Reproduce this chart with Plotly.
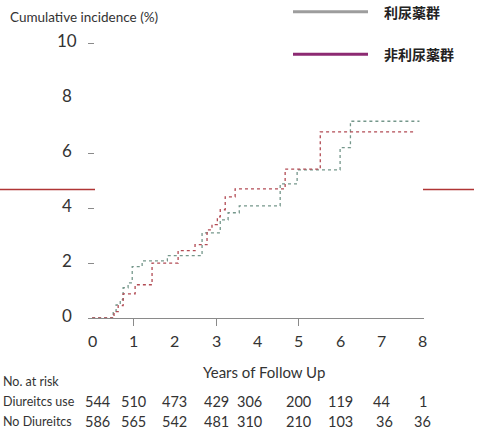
import plotly.graph_objects as go

# Cumulative incidence step curves (years, %)
diuretic_t = [0, 0.51, 0.58, 0.68, 0.75, 0.87, 0.97, 1.21, 1.82, 2.66, 3.10, 3.29, 3.56, 4.55, 4.96, 6.00, 6.25, 7.92]
diuretic_y = [0, 0.25, 0.48, 0.67, 1.10, 1.28, 1.87, 2.08, 2.27, 3.10, 3.57, 3.83, 4.08, 4.88, 5.39, 6.20, 7.16, 7.16]

non_diuretic_t = [0, 0.53, 0.63, 0.75, 1.04, 1.45, 2.08, 2.49, 2.78, 2.90, 3.03, 3.10, 3.22, 3.46, 4.67, 5.52, 7.77]
non_diuretic_y = [0, 0.23, 0.45, 0.88, 1.21, 2.00, 2.45, 2.67, 3.21, 3.40, 3.68, 3.94, 4.41, 4.70, 5.42, 6.77, 6.77]

ref_level = 4.68

x_ticks = [0, 1, 2, 3, 4, 5, 6, 7, 8]
y_ticks = [0, 2, 4, 6, 8, 10]

risk_times = [0, 1, 2, 3, 4, 5, 6, 7, 8]
risk_diuretic = [544, 510, 473, 429, 306, 200, 119, 44, 1]
risk_non_diuretic = [586, 565, 542, 481, 310, 210, 103, 36, 36]
risk_rows = ["Diureitcs use", "No Diureitcs"]

legend_names = ["利尿薬群", "非利尿薬群"]

FONT = "Lato"
TXT = "#333333"

# pixel helpers for the fixed 494x439 canvas (plot area 88..424 x 30..318)
L, W, T0, H = 88, 336, 30, 288
def px(x):
    return (x - L) / W
def py(y):
    return (T0 + H - y) / H

fig = go.Figure()

fig.add_trace(go.Scatter(
    x=diuretic_t, y=diuretic_y, mode="lines", line_shape="hv",
    line=dict(color="#75978b", width=1.3, dash="dot"), showlegend=False, hoverinfo="skip"))
fig.add_trace(go.Scatter(
    x=non_diuretic_t, y=non_diuretic_y, mode="lines", line_shape="hv",
    line=dict(color="#b24b54", width=1.3, dash="dot"), showlegend=False, hoverinfo="skip"))

fig.update_layout(
    width=494, height=439,
    margin=dict(l=L, r=494 - L - W, t=T0, b=439 - T0 - H),
    paper_bgcolor="white", plot_bgcolor="white",
    showlegend=False,
    font=dict(family=FONT, color=TXT),
    xaxis=dict(range=[-0.1, 8.03], showgrid=False, zeroline=False,
               showline=True, linecolor="#8a8a8a", linewidth=1,
               tickvals=[1, 3, 5], ticks="outside", ticklen=7, tickcolor="#8a8a8a",
               showticklabels=False),
    yaxis=dict(range=[0, 10.48], showgrid=False, zeroline=False, showline=False,
               tickvals=[2, 4, 6, 10], ticks="inside", ticklen=6, tickcolor="#8a8a8a",
               showticklabels=False),
)

ann = []
# y tick labels (centred under one another)
for v in y_ticks:
    ann.append(dict(x=px(67), xref="paper", y=v, yref="y", yshift=3, text=str(v),
                    showarrow=False, xanchor="center", yanchor="middle",
                    font=dict(size=17, color=TXT)))
# x tick labels
for v in x_ticks:
    ann.append(dict(x=v, xref="x", y=py(340.7), yref="paper", text=str(v),
                    showarrow=False, xanchor="center", yanchor="middle",
                    font=dict(size=16, color=TXT)))

ann.append(dict(x=px(8), xref="paper", y=py(16.7), yref="paper",
                text="Cumulative incidence (%)", showarrow=False,
                xanchor="left", yanchor="middle", font=dict(size=13.5, color=TXT)))

ann.append(dict(x=px(264), xref="paper", y=py(371.7), yref="paper",
                text="Years of Follow Up", showarrow=False, xanchor="center", yanchor="middle",
                font=dict(size=15, color=TXT)))

# number at risk table
ann.append(dict(x=px(1), xref="paper", y=py(381.7), yref="paper",
                text="No. at risk", showarrow=False, xanchor="left", yanchor="middle",
                font=dict(size=12.5, color=TXT)))
row_y = [py(401.7), py(421.7)]
col_shift = [5, 0, 0, 0, -8, 0, 0, 0, 0]
for r, (name, counts) in enumerate(zip(risk_rows, [risk_diuretic, risk_non_diuretic])):
    ann.append(dict(x=px(1), xref="paper", y=row_y[r], yref="paper", text=name,
                    showarrow=False, xanchor="left", yanchor="middle",
                    font=dict(size=12.5, color=TXT)))
    for i, (t, n) in enumerate(zip(risk_times, counts)):
        shift = col_shift[i] + (3 if (r == 1 and i == 7) else 0)
        ann.append(dict(x=t, xref="x", y=row_y[r], yref="paper", xshift=shift, text=str(n),
                        showarrow=False, xanchor="center", yanchor="middle",
                        font=dict(size=14.5, color=TXT)))

# legend drawn as sample lines with labels
leg_y_line = [py(11.7), py(54.3)]
leg_colors = ["#9d9d9d", "#8c2a72"]
shapes = []
for name, yl, c in zip(legend_names, leg_y_line, leg_colors):
    shapes.append(dict(type="line", xref="paper", yref="paper",
                       x0=px(293), x1=px(368), y0=yl, y1=yl,
                       line=dict(color=c, width=3)))
    ann.append(dict(x=px(382), xref="paper", y=yl, yref="paper", text="<b>%s</b>" % name,
                    showarrow=False, xanchor="left", yanchor="middle",
                    font=dict(size=14, color="#222222", family="Noto Sans CJK JP")))

# horizontal red reference marks either side of the plot
for x0, x1 in [(px(0), px(95)), (px(423), px(474))]:
    shapes.append(dict(type="line", xref="paper", yref="y", x0=x0, x1=x1,
                       y0=ref_level, y1=ref_level, line=dict(color="#b03535", width=1.5)))

fig.update_layout(annotations=ann, shapes=shapes)
fig.write_html("out.html")
